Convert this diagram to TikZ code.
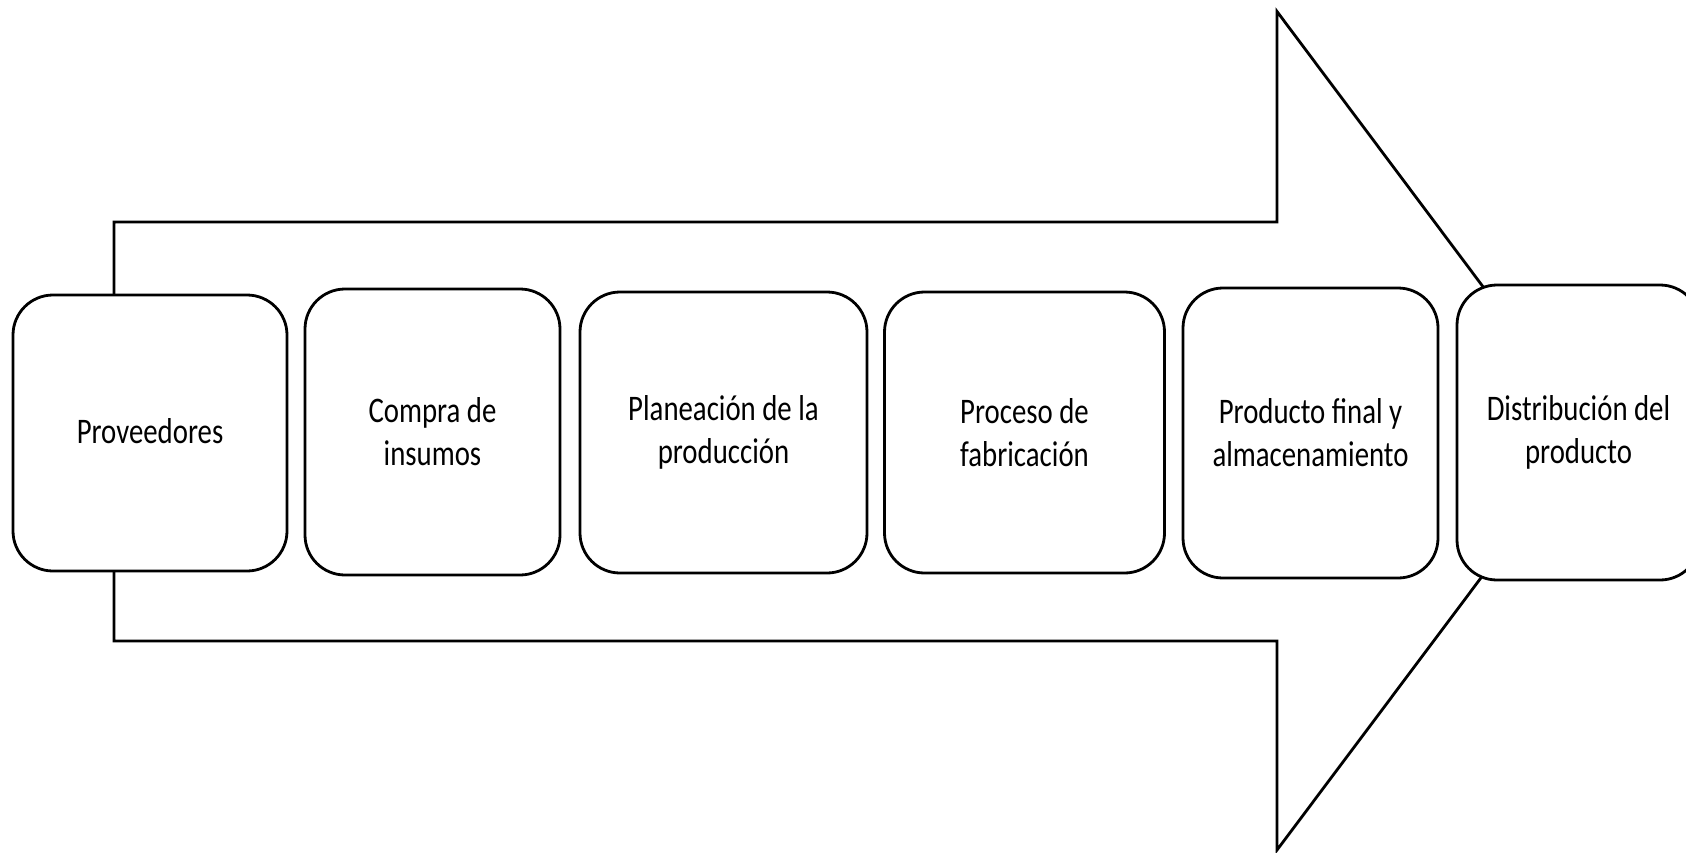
\documentclass[tikz,border=0pt]{standalone}
\usepackage{fontspec}
\setmainfont[FakeStretch=0.8]{Carlito}
\begin{document}
\begin{tikzpicture}[x=0.5pt,y=-0.5pt,
  outline/.style={draw=black, line width=1.4pt},
  stagebox/.style={outline, fill=white, rounded corners=20pt, inner sep=0pt, align=center,
    font=\fontsize{18pt}{21.5pt}\selectfont}]
\useasboundingbox (0,0) rectangle (1686,852);
% big arrow
\coordinate (s1) at (114,222);
\coordinate (n1) at (1277,222);
\coordinate (t1) at (1277,11.5);
\coordinate (ap) at (1591,431);
\coordinate (t2) at (1277,850);
\coordinate (n2) at (1277,641);
\coordinate (s2) at (114,641);
\draw[outline, fill=white, line join=miter] (s1) -- (n1) -- (t1) -- (ap) -- (t2) -- (n2) -- (s2) -- cycle;
% stages
\node[stagebox, minimum width=137pt, minimum height=138pt, text depth=2pt] (p1) at (150,433) {Proveedores};
\node[stagebox, minimum width=127.5pt, minimum height=143pt] (p2) at (432.5,432) {Compra de\\insumos};
\node[stagebox, minimum width=143.5pt, minimum height=140.5pt] (p3) at (723.5,432.5) {Planeación de la\\producción};
\node[stagebox, minimum width=140pt, minimum height=140.5pt] (p4) at (1024.5,432.5) {Proceso de\\fabricación};
\node[stagebox, minimum width=127.5pt, minimum height=145pt] (p5) at (1310.5,433) {Producto final y\\almacenamiento};
\node[stagebox, minimum width=121.5pt, minimum height=147.5pt] (p6) at (1578.5,432.5) {Distribución del\\producto};
\end{tikzpicture}
\end{document}
